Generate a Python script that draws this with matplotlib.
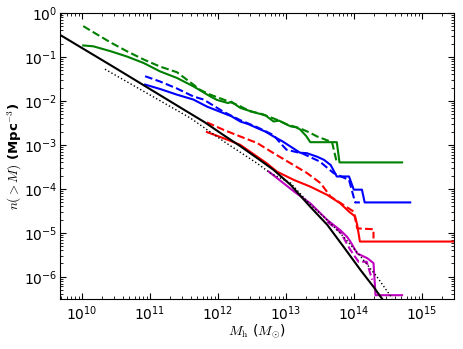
import numpy as np
import matplotlib
matplotlib.use("Agg")
import matplotlib.pyplot as plt

plt.rcParams['mathtext.fontset'] = 'cm'
plt.rcParams['font.family'] = 'DejaVu Sans'

# values, as log10(M) and log10(n)
black_lm = [9.68, 10.5, 11.0, 11.5, 11.8, 12.085, 12.33, 12.577, 12.82, 13.07, 13.36, 13.61, 13.85, 14.10, 14.29, 14.42]
black_ln = [-0.50, -1.26, -1.73, -2.20, -2.48, -2.78, -3.03, -3.30, -3.57, -3.91, -4.41, -4.82, -5.32, -5.85, -6.23, -6.51]

dot_lm = [10.34, 11.595, 12.085, 12.577, 12.77, 13.07, 13.36, 13.61, 13.85, 14.10, 14.34, 14.565]
dot_ln = [-1.28, -2.39, -2.92, -3.42, -3.64, -3.87, -4.36, -4.71, -5.09, -5.54, -6.00, -6.49]

green_lm = [10.02, 10.17, 10.42, 10.66, 10.91, 11.15, 11.40, 11.64, 11.89, 11.99, 12.15, 12.20, 12.33, 12.45, 12.58,
            12.70, 12.82, 12.90, 13.07, 13.15, 13.21, 13.30, 13.36, 13.75, 13.79, 14.71]
green_ln = [-0.74, -0.76, -0.87, -0.99, -1.14, -1.33, -1.48, -1.67, -1.90, -1.98, -2.05, -2.02, -2.16, -2.22, -2.28,
            -2.33, -2.47, -2.45, -2.58, -2.60, -2.65, -2.80, -2.94, -2.94, -3.40, -3.40]
green_d_lm = [10.02, 10.17, 10.42, 10.66, 10.91, 11.15, 11.40, 11.64, 11.74, 11.89, 12.10, 12.30, 12.48, 12.65, 12.87,
              13.02, 13.20, 13.35, 13.46, 13.68, 13.75]
green_d_ln = [-0.30, -0.44, -0.67, -0.87, -1.06, -1.22, -1.35, -1.63, -1.75, -1.86, -1.98, -2.10, -2.24, -2.30, -2.43,
              -2.54, -2.62, -2.72, -2.81, -2.94, -3.40]

blue_lm = [10.93, 11.15, 11.40, 11.64, 11.84, 12.085, 12.20, 12.33, 12.45, 12.58, 12.70, 12.82, 12.95, 13.07, 13.21,
           13.31, 13.46, 13.56, 13.66, 13.75, 13.93, 14.00, 14.12, 14.16, 14.83]
blue_ln = [-1.63, -1.73, -1.86, -1.97, -2.13, -2.28, -2.35, -2.47, -2.53, -2.62, -2.70, -2.81, -2.92, -3.04, -3.18,
           -3.19, -3.27, -3.34, -3.46, -3.72, -3.72, -4.02, -4.02, -4.31, -4.31]
blue_d_lm = [10.93, 11.15, 11.40, 11.64, 11.79, 12.085, 12.33, 12.58, 12.82, 12.92, 13.01, 13.25, 13.50, 13.70, 13.93,
             14.02, 14.09]
blue_d_ln = [-1.44, -1.56, -1.72, -1.90, -1.97, -2.25, -2.44, -2.60, -2.78, -2.96, -3.11, -3.20, -3.38, -3.64, -3.80,
             -4.31, -4.31]

red_lm = [11.84, 12.085, 12.33, 12.58, 12.72, 12.87, 13.12, 13.36, 13.61, 13.80, 13.93, 14.02, 14.05, 14.09, 15.6]
red_ln = [-2.71, -2.85, -3.00, -3.27, -3.42, -3.61, -3.80, -3.95, -4.14, -4.33, -4.52, -4.63, -4.82, -5.20, -5.20]
red_d_lm = [11.84, 12.085, 12.33, 12.58, 12.82, 13.07, 13.31, 13.51, 13.66, 13.85, 14.00, 14.05, 14.29, 14.29]
red_d_ln = [-2.49, -2.66, -2.81, -2.96, -3.19, -3.42, -3.64, -3.87, -4.18, -4.37, -4.52, -4.90, -4.92, -5.13]

mag_lm = [12.75, 13.12, 13.36, 13.61, 13.80, 13.90, 13.95, 14.05, 14.20, 14.29, 14.32, 14.71]
mag_ln = [-3.61, -4.06, -4.33, -4.71, -4.94, -5.09, -5.20, -5.47, -5.58, -5.69, -6.42, -6.42]
mag_d_lm = [13.61, 13.80, 13.95, 14.07, 14.19, 14.27]
mag_d_ln = [-4.75, -4.98, -5.39, -5.66, -5.66, -6.07]

fig = plt.figure(figsize=(4.63, 3.49), dpi=100)
ax = fig.add_axes([0.13, 0.143, 0.851, 0.82])

def p(lm, ln, *args, **kw):
    ax.plot(10.0 ** np.array(lm), 10.0 ** np.array(ln), *args, **kw)

lw = 1.5
p(green_lm, green_ln, '-', color='green', lw=lw)
p(green_d_lm, green_d_ln, '--', color='green', lw=lw)
p(blue_lm, blue_ln, '-', color='blue', lw=lw)
p(blue_d_lm, blue_d_ln, '--', color='blue', lw=lw)
p(red_lm, red_ln, '-', color='red', lw=lw)
p(red_d_lm, red_d_ln, '--', color='red', lw=lw)
p(mag_lm, mag_ln, '-', color='m', lw=lw)
p(mag_d_lm, mag_d_ln, '--', color='m', lw=lw)
p(black_lm, black_ln, '-', color='k', lw=lw)
p(dot_lm, dot_ln, ':', color='k', lw=1.0)

ax.set_xscale('log')
ax.set_yscale('log')
ax.set_xlim(4.8e9, 3.0e15)
ax.set_ylim(3.1e-7, 1.0)
ax.tick_params(which='both', direction='in', top=True, right=True, labelsize=10)
ax.tick_params(which='major', length=4)
ax.tick_params(which='minor', length=2)
ax.tick_params(axis='x', pad=3.5)
ax.tick_params(axis='y', pad=2)
ax.set_xlabel(r'$M_{\rm h}$ ($M_{\odot}$)', fontsize=10)
ax.set_ylabel(r'$n(>M)$ (Mpc$^{-3}$)', fontsize=9.5, fontweight='bold')
ax.xaxis.set_label_coords(0.5, -0.08)
ax.yaxis.set_label_coords(-0.092, 0.5)

fig.savefig('out.png', dpi=100)
